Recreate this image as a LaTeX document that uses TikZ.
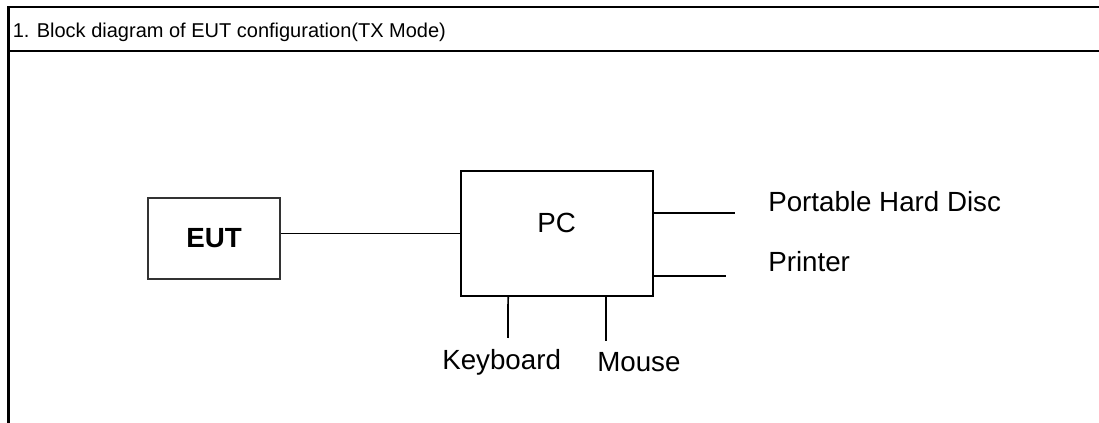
\documentclass[tikz,border=0pt]{standalone}
\usepackage{fontspec}
\setmainfont{Liberation Sans}
\usetikzlibrary{positioning}

\begin{document}
\begin{tikzpicture}[x=0.75pt,y=-0.75pt,
    box/.style={draw,line width=1.3pt,inner sep=0pt},
    lbl/.style={font=\fontsize{20.8}{24}\selectfont,inner sep=0pt,anchor=base west},
    wire/.style={line width=1.3pt},
    frame/.style={line width=1.7pt}]
    \useasboundingbox(0,0)rectangle(1099,423);
    % table frame
    \draw[frame](8.5,424)--(8.5,7)--(1100,7);
    \draw[frame](8.5,51)--(1100,51);
    \node[lbl,font=\fontsize{15}{18}\selectfont](title)at(12.5,38){1. Block diagram of EUT configuration(TX Mode)};
    % blocks
    \node[box,draw=black!80,minimum width=99pt,minimum height=60.75pt,font=\fontsize{20.8}{24}\selectfont\bfseries](eut)at(214,238.5){EUT};
    \node[box,minimum width=144pt,minimum height=93.75pt](pc)at(557,233.5){};
    \node[lbl](pctxt)at(537,233){PC};
    % peripherals
    \node[lbl](hd)at(768,212){Portable Hard Disc};
    \node[lbl](prn)at(768,272){Printer};
    \node[lbl](kb)at(442,370){Keyboard};
    \node[lbl](ms)at(597,372){Mouse};
    \coordinate(hdEnd)at(735,213);
    \coordinate(prEnd)at(726,276);
    \coordinate(kbEnd)at(508,338);
    \coordinate(msEnd)at(606,341);
    \draw[wire](eut.east|-pc.west)--(pc.west);
    \draw[wire](pc.east|-hdEnd)--(hdEnd);
    \draw[wire](pc.east|-prEnd)--(prEnd);
    \draw[wire]([xshift=36pt]pc.south west)--(kbEnd);
    \draw[wire](pc.south-|msEnd)--(msEnd);
\end{tikzpicture}
\end{document}
